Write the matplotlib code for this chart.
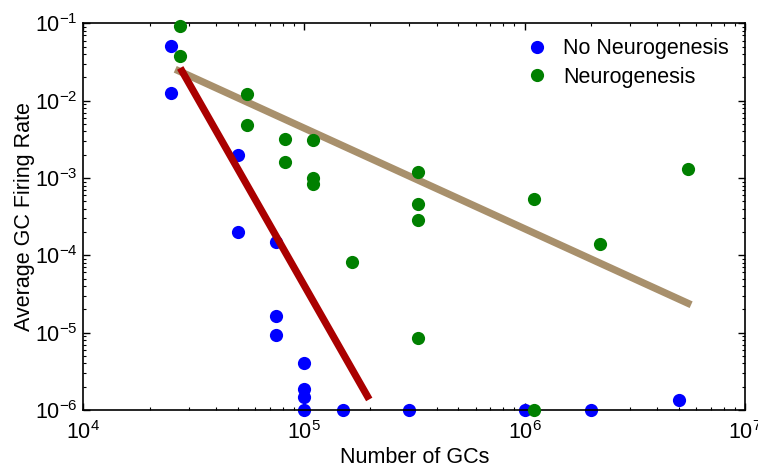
import matplotlib
matplotlib.use("Agg")
import matplotlib.pyplot as plt
from matplotlib.ticker import LogLocator, NullFormatter

plt.rcParams['font.family'] = ['Liberation Sans', 'DejaVu Sans']
plt.rcParams['mathtext.fontset'] = 'custom'
plt.rcParams['mathtext.rm'] = 'Liberation Sans'
plt.rcParams['mathtext.it'] = 'Liberation Sans:italic'
plt.rcParams['mathtext.bf'] = 'Liberation Sans:bold'

# Data
no_neuro_x = [2.5e4, 2.5e4, 5e4, 5e4, 7.5e4, 7.5e4, 7.5e4, 1e5, 1e5, 1e5, 1e5,
              1.5e5, 3e5, 1e6, 2e6, 5e6]
no_neuro_y = [0.051, 0.0125, 0.002, 0.0002, 0.00015, 1.65e-5, 9.3e-6, 4.1e-6,
              1.85e-6, 1.45e-6, 1e-6, 1e-6, 1e-6, 1e-6, 1e-6, 1.35e-6]

neuro_x = [2.75e4, 2.75e4, 5.5e4, 5.5e4, 8.2e4, 8.2e4, 1.1e5, 1.1e5, 1.1e5,
           1.65e5, 3.3e5, 3.3e5, 3.3e5, 3.3e5, 1.1e6, 1.1e6, 2.2e6, 5.5e6]
neuro_y = [0.092, 0.038, 0.0122, 0.0049, 0.0032, 0.00163, 0.0031, 0.00101,
           0.00084, 8.2e-5, 0.00121, 0.00046, 0.00029, 8.6e-6, 0.00053, 1e-6,
           0.00014, 0.0013]

fit_no_x = [2.8e4, 1.94e5]
fit_no_y = [0.0242, 1.5e-6]
fit_neuro_x = [2.7e4, 5.5e6]
fit_neuro_y = [0.0244, 2.4e-5]

fig = plt.figure(figsize=(7.58, 4.69), dpi=100)
ax = fig.add_axes([0.110, 0.126, 0.873, 0.824])

ax.plot(fit_neuro_x, fit_neuro_y, color='#A8906C', lw=5.2, zorder=1)
ax.plot(no_neuro_x, no_neuro_y, 'o', color='#0000FF', ms=9.5, mec='none',
        label='No Neurogenesis', clip_on=False, zorder=2)
ax.plot(fit_no_x, fit_no_y, color='#AA0000', lw=5.2, zorder=3)
ax.plot(neuro_x, neuro_y, 'o', color='#008000', ms=9.5, mec='none',
        label='Neurogenesis', clip_on=False, zorder=4)

ax.set_xscale('log')
ax.set_yscale('log')
ax.set_xlim(1e4, 1e7)
ax.set_ylim(1e-6, 1e-1)

ax.xaxis.set_major_locator(LogLocator(base=10, numticks=10))
ax.yaxis.set_major_locator(LogLocator(base=10, numticks=10))
ax.xaxis.set_minor_locator(LogLocator(base=10, subs=range(2, 10), numticks=20))
ax.yaxis.set_minor_locator(LogLocator(base=10, subs=range(2, 10), numticks=20))
ax.xaxis.set_minor_formatter(NullFormatter())
ax.yaxis.set_minor_formatter(NullFormatter())

ax.tick_params(which='both', direction='in', top=True, right=True, labelsize=15.5)
ax.tick_params(which='major', length=5, width=1)
ax.tick_params(which='minor', length=2.5, width=0.8)
ax.tick_params(axis='x', which='major', pad=8)
ax.tick_params(axis='y', which='major', pad=4)
for s in ax.spines.values():
    s.set_linewidth(1.2)

ax.set_xlabel('Number of GCs', fontsize=15.5, labelpad=2)
ax.set_ylabel('Average GC Firing Rate', fontsize=15.5, labelpad=0)

ax.legend(loc='upper right', frameon=False, fontsize=15.5, handletextpad=0.6,
          borderaxespad=0.2, labelspacing=0.35, markerscale=1.0,
          bbox_to_anchor=(0.995, 0.995), handlelength=1.2)

fig.savefig('out.png', dpi=100)
